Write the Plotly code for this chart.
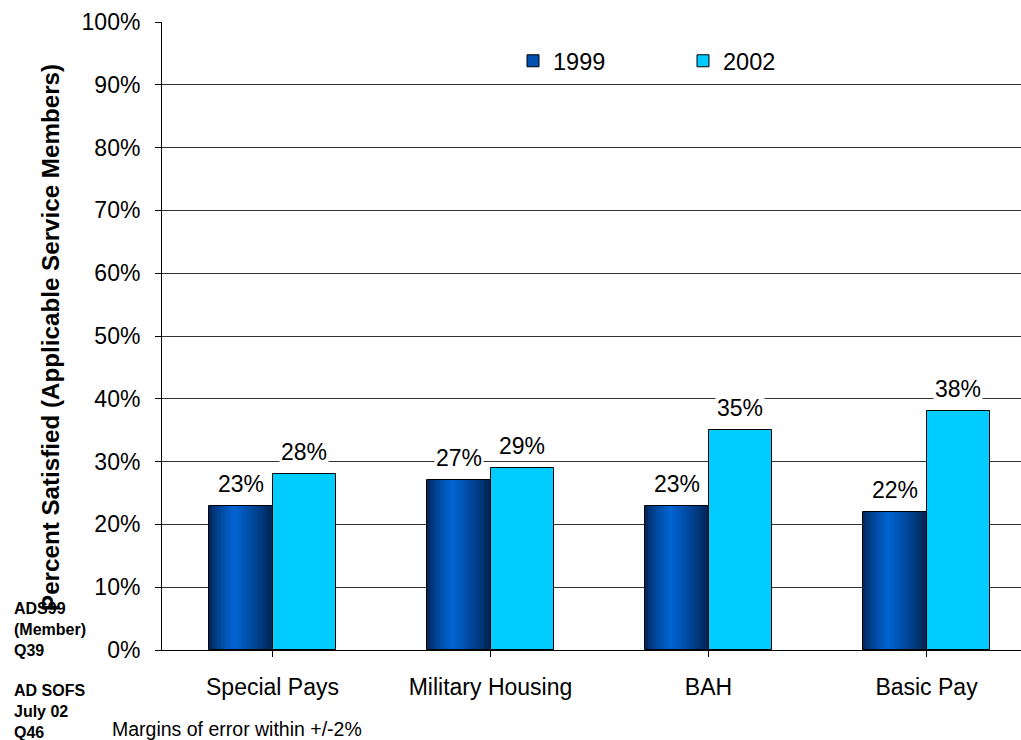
import plotly.graph_objects as go

categories = ["Special Pays", "Military Housing", "BAH", "Basic Pay"]
sat_1999 = [23, 27, 23, 22]
sat_2002 = [28, 29, 35, 38]
y_ticks = [0, 10, 20, 30, 40, 50, 60, 70, 80, 90, 100]

FONT = "Liberation Sans, Arial, sans-serif"
W, H = 1021, 740
L, T, B = 162, 22, 90
BAR_W = 0.29
CAT_PX = 218
x_idx = list(range(len(categories)))

fig = go.Figure()


def lerp(c1, c2, t):
    return "#%02x%02x%02x" % tuple(round(a + (b - a) * t) for a, b in zip(c1, c2))


dark = (0x00, 0x1E, 0x4A)
bright = (0x00, 0x64, 0xD2)
n = 24
for i in range(n):
    t = (i + 0.5) / n
    # brightness peaks a little left of centre, darker towards the right edge
    if t < 0.4:
        k = (t / 0.4) ** 0.6
    else:
        k = ((1 - t) / 0.6) ** 0.8
    fig.add_bar(
        x=x_idx, y=sat_1999, width=BAR_W / n + 0.002,
        offset=-BAR_W + i * BAR_W / n,
        marker=dict(color=lerp(dark, bright, k), line=dict(width=0)),
        showlegend=False, hoverinfo="skip",
    )
# outline for the 1999 bars
fig.add_bar(
    x=x_idx, y=sat_1999, width=BAR_W, offset=-BAR_W, name="1999",
    marker=dict(color="rgba(0,0,0,0)", line=dict(color="#000", width=1)),
    showlegend=False,
)
# legend entry for 1999
fig.add_bar(
    x=[None], y=[None], name="1999",
    marker=dict(color="#0050B0", line=dict(color="#000", width=1)),
)
fig.add_bar(
    x=x_idx, y=sat_2002, width=BAR_W, offset=0, name="2002",
    marker=dict(color="#00CCFF", line=dict(color="#000", width=1)),
)

# value labels with white boxes
for i, v in enumerate(sat_1999):
    fig.add_annotation(x=i - BAR_W / 2, y=v, yshift=22, text=f"{v}%",
                       showarrow=False, bgcolor="white",
                       xanchor="center", yanchor="middle",
                       font=dict(size=23, color="#000", family=FONT))
for i, v in enumerate(sat_2002):
    fig.add_annotation(x=i + BAR_W / 2, y=v, yshift=22, text=f"{v}%",
                       showarrow=False, bgcolor="white",
                       xanchor="center", yanchor="middle",
                       font=dict(size=23, color="#000", family=FONT))

pw = W - L
ph = H - T - B


def px(xp):
    return (xp - L) / pw


def py(yp):
    return (H - B - yp) / ph


fig.add_annotation(xref="paper", yref="paper", x=px(50), y=py(338),
                   xanchor="center", yanchor="middle",
                   text="<b>Percent Satisfied (Applicable Service Members)</b>",
                   textangle=-90, showarrow=False,
                   font=dict(size=24.2, color="#000", family=FONT))
fig.add_annotation(xref="paper", yref="paper", x=px(12), y=py(629),
                   xanchor="left", yanchor="middle", align="left", showarrow=False,
                   text="<b>ADS99<br>(Member)<br>Q39</b>",
                   font=dict(size=16, color="#000", family=FONT))
fig.add_annotation(xref="paper", yref="paper", x=px(12), y=py(711),
                   xanchor="left", yanchor="middle", align="left", showarrow=False,
                   text="<b>AD SOFS<br>July 02<br>Q46</b>",
                   font=dict(size=16, color="#000", family=FONT))
fig.add_annotation(xref="paper", yref="paper", x=px(110), y=py(729),
                   xanchor="left", yanchor="middle", showarrow=False,
                   text="Margins of error within +/-2%",
                   font=dict(size=19.5, color="#000", family=FONT))

fig.update_layout(
    width=W, height=H,
    margin=dict(l=L, r=0, t=T, b=B),
    paper_bgcolor="white", plot_bgcolor="white",
    barmode="overlay",
    font=dict(family=FONT, color="#000"),
    legend=dict(orientation="h", x=px(513), y=py(61), xanchor="left", yanchor="middle",
                font=dict(size=23.5, color="#000"), entrywidth=125,
                bgcolor="rgba(0,0,0,0)", itemwidth=30, traceorder="normal"),
    xaxis=dict(
        tickmode="array", tickvals=x_idx, ticktext=categories,
        range=[-0.5 - 1.5 / CAT_PX, -0.5 - 1.5 / CAT_PX + pw / CAT_PX],
        tickson="boundaries",
        ticks="outside", ticklen=6, tickcolor="#000",
        showline=True, linecolor="#000", linewidth=1,
        showgrid=False, zeroline=False, ticklabelstandoff=10,
        tickfont=dict(size=23, color="#000", family=FONT),
    ),
    yaxis=dict(
        range=[0, 100], tickvals=y_ticks,
        ticktext=[f"{v}%" for v in y_ticks],
        ticks="outside", ticklen=6, tickcolor="#000",
        showline=True, linecolor="#000", linewidth=1,
        showgrid=True, gridcolor="#333", gridwidth=1, zeroline=False,
        ticklabelstandoff=10,
        tickfont=dict(size=23, color="#000", family=FONT),
    ),
    bargap=0,
)

fig.write_html("out.html")
